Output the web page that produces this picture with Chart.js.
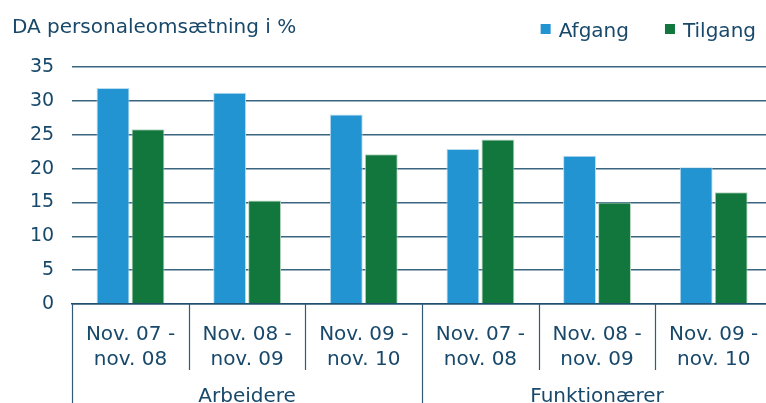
<!DOCTYPE html>
<html>
<head>
<meta charset="utf-8">
<script src="https://cdn.jsdelivr.net/npm/chart.js@4.4.1/dist/chart.umd.min.js"></script>
<style>
  html, body { margin: 0; padding: 0; background: #fff; overflow: hidden; }
  #wrap { position: relative; width: 772px; height: 403px; }
</style>
</head>
<body>
<div id="wrap"><canvas id="chart"></canvas></div>
<script>
// ---- data ----
const periods = [
  ['Nov. 07 -', 'nov. 08'], ['Nov. 08 -', 'nov. 09'], ['Nov. 09 -', 'nov. 10'],
  ['Nov. 07 -', 'nov. 08'], ['Nov. 08 -', 'nov. 09'], ['Nov. 09 -', 'nov. 10']
];
const groups     = ['Arbeidere', 'Funktionærer'];
const groupSize  = 3;
const afgang     = [31.9, 31.2, 28.0, 22.9, 21.9, 20.2];
const tilgang    = [25.8, 15.3, 22.1, 24.3, 15.0, 16.5];
const yTicks     = [0, 5, 10, 15, 20, 25, 30, 35];
const chartTitle = 'DA personaleomsætning i %';

const TXT  = '#18486a';
const FONT = "'DejaVu Sans', Verdana, sans-serif";

// title, legend, group labels and category dividers
const decor = {
  id: 'decor',
  afterDraw(chart) {
    const { ctx, chartArea: a, scales: { x } } = chart;
    ctx.save();
    ctx.fillStyle = TXT;
    ctx.font = '20px ' + FONT;
    ctx.textBaseline = 'alphabetic';
    ctx.textAlign = 'left';
    ctx.fillText(chartTitle, 12, 33);

    // legend, right aligned
    const items = chart.data.datasets.map(d => ({ label: d.label, color: d.backgroundColor }));
    let right = 756;
    for (let i = items.length - 1; i >= 0; i--) {
      const w = ctx.measureText(items[i].label).width;
      const tx = right - w;
      ctx.fillStyle = TXT;
      ctx.fillText(items[i].label, tx, 37);
      ctx.fillStyle = items[i].color;
      ctx.fillRect(tx - 18, 24, 10, 10);
      right = tx - 18 - 36;
    }

    // category dividers
    const n = periods.length;
    const cw = (x.getPixelForValue(1) - x.getPixelForValue(0));
    ctx.strokeStyle = '#2f5a78';
    ctx.lineWidth = 1.2;
    for (let i = 0; i <= n; i++) {
      const px = Math.round(x.getPixelForValue(i) - cw / 2) + 0.5;
      ctx.beginPath();
      ctx.moveTo(px, a.bottom);
      ctx.lineTo(px, i % groupSize === 0 ? 403 : 370);
      ctx.stroke();
    }

    // group labels
    ctx.fillStyle = TXT;
    ctx.textAlign = 'center';
    groups.forEach((g, gi) => {
      const c = (x.getPixelForValue(gi * groupSize) + x.getPixelForValue(gi * groupSize + groupSize - 1)) / 2;
      ctx.fillText(g, c, 402);
    });
    ctx.restore();
  }
};

new Chart(document.getElementById('chart'), {
  type: 'bar',
  data: {
    labels: periods,
    datasets: [
      { label: 'Afgang',  data: afgang,  backgroundColor: '#2394d2', borderColor: '#b9dcf0', borderWidth: 1 },
      { label: 'Tilgang', data: tilgang, backgroundColor: '#11773c', borderColor: '#b6d6c2', borderWidth: 1 }
    ]
  },
  options: {
    responsive: true,
    maintainAspectRatio: false,
    animation: false,
    categoryPercentage: 0.6,
    barPercentage: 0.94,
    layout: { padding: { left: 12, top: 67, right: 0, bottom: 21 } },
    plugins: { legend: { display: false }, tooltip: { enabled: false } },
    scales: {
      x: {
        grid: { display: false },
        border: { display: true, color: '#1f4e6e', width: 1.5 },
        ticks: { color: TXT, font: { family: FONT, size: 20, lineHeight: 1.25 }, padding: 10, maxRotation: 0, autoSkip: false }
      },
      y: {
        min: 0, max: 35,
        afterBuildTicks: s => { s.ticks = yTicks.map(v => ({ value: v })); },
        grid: { color: '#3a6580', lineWidth: 1.5, drawTicks: false },
        border: { display: false },
        ticks: { color: TXT, font: { family: FONT, size: 19 }, padding: 18 }
      }
    }
  },
  plugins: [decor]
});
</script>
</body>
</html>
